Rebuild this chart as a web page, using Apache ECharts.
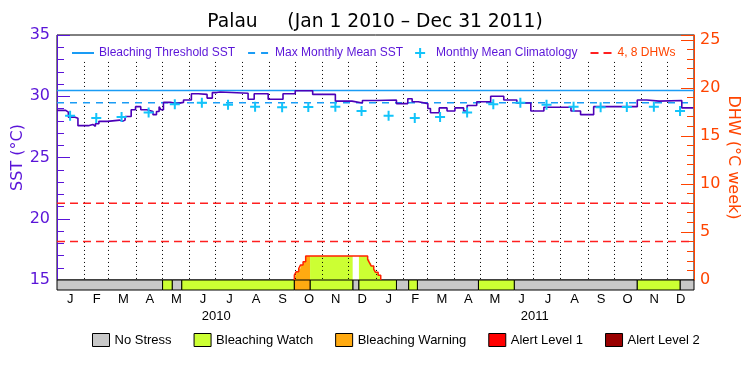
<!DOCTYPE html>
<html>
<head>
<meta charset="utf-8">
<script src="https://cdn.jsdelivr.net/npm/echarts@6/dist/echarts.min.js"></script>
<style>
  html, body { margin: 0; padding: 0; background: #fff; }
  #chart { width: 750px; height: 375px; }
</style>
</head>
<body>
<div id="chart"></div>
<script>
const FONT = 'Liberation Sans'
const AXISFONT = 'DejaVu Sans'
const PURPLE = '#5a14d8'
const ORANGE = '#ff4400'

// SST (step changes: date where value starts)
const sstDates = ['2010-01-01', '2010-01-11', '2010-01-14', '2010-01-21', '2010-01-25', '2010-02-06', '2010-02-11',
  '2010-02-14', '2010-02-18', '2010-02-28', '2010-03-14', '2010-03-17', '2010-03-20', '2010-03-27', '2010-04-01',
  '2010-04-07', '2010-04-14', '2010-04-21', '2010-04-25', '2010-04-28', '2010-04-30', '2010-05-03', '2010-05-11',
  '2010-05-18', '2010-05-26', '2010-06-04', '2010-06-12', '2010-06-22', '2010-06-28', '2010-07-03', '2010-07-07',
  '2010-08-08', '2010-08-15', '2010-08-31', '2010-09-17', '2010-10-01', '2010-10-21', '2010-11-16', '2010-12-05',
  '2010-12-17', '2011-01-01', '2011-01-25', '2011-02-07', '2011-02-12', '2011-02-19', '2011-03-02', '2011-03-05',
  '2011-03-15', '2011-03-24', '2011-04-02', '2011-04-12', '2011-04-16', '2011-04-27', '2011-05-13', '2011-05-28',
  '2011-06-12', '2011-06-28', '2011-07-13', '2011-08-13', '2011-08-24', '2011-09-08', '2011-10-28', '2011-11-08',
  '2011-11-22', '2011-12-18', '2011-12-31']
const sstValues = [28.85, 28.7, 28.3, 28.2, 27.6, 27.7, 27.55,
  27.75, 27.95, 28.05, 27.95, 28.05, 28.35, 28.9, 29.15,
  28.9, 28.75, 28.5, 28.75, 29.15, 28.9, 29.5, 29.4,
  29.5, 29.7, 30.2, 30.15, 29.85, 30.3, 30.35, 30.25,
  29.75, 30.2, 29.75, 30.2, 30.45, 30.15, 29.6, 29.45,
  29.65, 29.7, 29.4, 29.8, 29.55, 29.4, 29.0, 28.65,
  29.05, 28.8, 29.05, 28.8, 29.25, 29.55, 30.0, 29.7,
  29.45, 28.8, 29.1, 28.8, 28.5, 29.15, 29.7, 29.6,
  29.65, 29.05, 29.05]

// monthly mean climatology
const climDates = ['2010-01-16', '2010-02-15', '2010-03-16', '2010-04-16', '2010-05-16', '2010-06-16',
  '2010-07-16', '2010-08-16', '2010-09-16', '2010-10-16', '2010-11-16', '2010-12-16',
  '2011-01-16', '2011-02-15', '2011-03-16', '2011-04-16', '2011-05-16', '2011-06-16',
  '2011-07-16', '2011-08-16', '2011-09-16', '2011-10-16', '2011-11-16', '2011-12-16']
const climValues = [28.4, 28.22, 28.3, 28.68, 29.35, 29.47, 29.3, 29.15, 29.1, 29.12, 29.15, 28.8,
  28.4, 28.22, 28.3, 28.68, 29.35, 29.47, 29.3, 29.15, 29.1, 29.12, 29.15, 28.8]

const mmm = 29.47
const threshold = 30.47
const dhwLevels = [4, 8]

// degree heating weeks (step changes)
const dhwDates = ['2010-09-30', '2010-10-02', '2010-10-05', '2010-10-07', '2010-10-10', '2010-10-13',
  '2010-12-23', '2010-12-25', '2010-12-27', '2010-12-30', '2011-01-01', '2011-01-04', '2011-01-07']
const dhwValues = [0.5, 0.85, 1.2, 1.55, 1.9, 2.5, 2.15, 1.8, 1.46, 1.1, 0.8, 0.5, 0]

// stress level band
const stressStart = ['2010-01-01', '2010-05-02', '2010-05-13', '2010-05-24', '2010-09-30', '2010-10-18',
  '2010-12-06', '2010-12-13', '2011-01-25', '2011-02-08', '2011-02-18', '2011-04-29', '2011-06-09',
  '2011-10-28', '2011-12-16']
const stressEnd = ['2010-05-02', '2010-05-13', '2010-05-24', '2010-09-30', '2010-10-18', '2010-12-06',
  '2010-12-13', '2011-01-25', '2011-02-08', '2011-02-18', '2011-04-29', '2011-06-09', '2011-10-28',
  '2011-12-16', '2012-01-01']
const stressLevel = [0, 1, 0, 1, 2, 1, 0, 1, 0, 1, 0, 1, 0, 1, 0]
const stressNames = ['No Stress', 'Bleaching Watch', 'Bleaching Warning', 'Alert Level 1', 'Alert Level 2']
const stressColors = ['#c8c8c8', '#ccff33', '#ffaa11', '#ff0000', '#990000']

const monthStarts = ['2010-02-01', '2010-03-01', '2010-04-01', '2010-05-01', '2010-06-01', '2010-07-01',
  '2010-08-01', '2010-09-01', '2010-10-01', '2010-11-01', '2010-12-01', '2011-01-01', '2011-02-01',
  '2011-03-01', '2011-04-01', '2011-05-01', '2011-06-01', '2011-07-01', '2011-08-01', '2011-09-01',
  '2011-10-01', '2011-11-01', '2011-12-01']
const monthLabels = ['J', 'F', 'M', 'A', 'M', 'J', 'J', 'A', 'S', 'O', 'N', 'D',
  'J', 'F', 'M', 'A', 'M', 'J', 'J', 'A', 'S', 'O', 'N', 'D']
const yearLabels = ['2010', '2011']

const T0 = '2010-01-01'
const T1 = '2012-01-01'

const ts = s => echarts.time.parse(s).getTime()
const dhwT = dhwDates.map(ts)
function dhwAt(t) {
  let v = 0
  for (let i = 0; i < dhwT.length; i++) if (dhwT[i] <= t) v = dhwValues[i]
  return v
}

const chart = echarts.init(document.getElementById('chart'))

const bandSeries = stressNames.map((name, lvl) => ({
  name,
  type: 'custom',
  xAxisIndex: 1,
  yAxisIndex: 2,
  itemStyle: { color: stressColors[lvl], borderColor: '#000', borderWidth: 1 },
  encode: { x: [0, 1] },
  data: stressStart.map((s, i) => [s, stressEnd[i], stressLevel[i]]).filter(d => d[2] === lvl),
  renderItem: (params, api) => {
    const a = api.coord([api.value(0), 1])
    const b = api.coord([api.value(1), 0])
    return {
      type: 'rect',
      shape: { x: a[0], y: a[1], width: b[0] - a[0], height: b[1] - a[1] },
      style: { fill: stressColors[lvl], stroke: '#000', lineWidth: 1 },
    }
  },
  silent: true,
}))

const refLine = (name, yIndex, value, color, type) => ({
  name,
  type: 'line',
  xAxisIndex: 0,
  yAxisIndex: yIndex,
  symbol: 'none',
  showSymbol: false,
  silent: true,
  z: 3,
  color,
  lineStyle: { color, width: 1.5, type },
  data: [[T0, value], [T1, value]],
})

// hide the symbol that echarts adds to line legend icons
const noMark = { color: 'rgba(0,0,0,0)', borderWidth: 0, opacity: 0 }

const option = {
  animation: false,
  textStyle: { fontFamily: FONT },
  title: {
    text: 'Palau     (Jan 1 2010 \u2013 Dec 31 2011)',
    left: 'center',
    top: 8,
    textStyle: { fontFamily: AXISFONT, fontSize: 18.7, fontWeight: 'normal', color: '#000' },
  },
  legend: [
    {
      top: 42,
      left: 66,
      itemWidth: 22,
      itemHeight: 10,
      itemGap: 12,
      selectedMode: false,
      textStyle: { color: PURPLE, fontSize: 12, fontFamily: FONT },
      data: [
        { name: 'Bleaching Threshold SST', itemStyle: noMark },
        { name: 'Max Monthly Mean SST', itemStyle: noMark },
        'Monthly Mean Climatology',
        { name: '4, 8 DHWs', itemStyle: noMark, textStyle: { color: ORANGE } },
      ],
    },
    {
      top: 328,
      left: 87,
      itemWidth: 17,
      itemHeight: 13,
      itemGap: 22,
      icon: 'rect',
      selectedMode: false,
      itemStyle: { borderColor: '#000', borderWidth: 1 },
      textStyle: { color: '#000', fontSize: 13, fontFamily: FONT },
      data: stressNames,
    },
  ],
  grid: [
    { left: 57, right: 56, top: 35, height: 245, show: true, borderColor: '#000', borderWidth: 1,
      containLabel: false, outerBoundsMode: 'none' },
    { left: 57, right: 56, top: 280, height: 10, containLabel: false, outerBoundsMode: 'none' },
  ],
  xAxis: [
    { type: 'time', gridIndex: 0, min: T0, max: T1, show: false },
    { type: 'time', gridIndex: 1, min: T0, max: T1, show: false },
    {
      type: 'category', gridIndex: 1, position: 'bottom', data: monthLabels, boundaryGap: true,
      axisLine: { show: false }, axisTick: { show: false },
      axisLabel: { color: '#000', fontSize: 13, margin: 3, interval: 0 },
    },
    {
      type: 'category', gridIndex: 1, position: 'bottom', offset: 17, data: yearLabels, boundaryGap: true,
      axisLine: { show: false }, axisTick: { show: false },
      axisLabel: { color: '#000', fontSize: 13, margin: 3, interval: 0 },
    },
  ],
  yAxis: [
    {
      type: 'value', gridIndex: 0, min: 15, max: 35, interval: 5, position: 'left',
      name: 'SST (\u00b0C)', nameLocation: 'middle', nameGap: 31, nameRotate: 90, nameMoveOverlap: false,
      nameTextStyle: { color: PURPLE, fontSize: 16, fontFamily: AXISFONT },
      axisLine: { show: true, lineStyle: { color: PURPLE, width: 1 } },
      axisTick: { show: true, inside: true, length: 13, lineStyle: { color: PURPLE } },
      minorTick: { show: true, splitNumber: 5, length: 7, lineStyle: { color: PURPLE } },
      axisLabel: { color: PURPLE, fontSize: 16, margin: 7, fontFamily: AXISFONT },
      splitLine: { show: false },
    },
    {
      type: 'value', gridIndex: 0, min: 0, max: 25.5, interval: 5, position: 'right',
      name: 'DHW (\u00b0C week)', nameLocation: 'middle', nameGap: 31, nameRotate: -90, nameMoveOverlap: false,
      nameTextStyle: { color: ORANGE, fontSize: 16, fontFamily: AXISFONT },
      axisLine: { show: true, lineStyle: { color: ORANGE, width: 1 } },
      axisTick: { show: true, inside: true, length: 13, lineStyle: { color: ORANGE } },
      minorTick: { show: true, splitNumber: 5, length: 7, lineStyle: { color: ORANGE } },
      axisLabel: { color: ORANGE, fontSize: 16, margin: 6, showMaxLabel: false, fontFamily: AXISFONT },
      splitLine: { show: false },
    },
    { type: 'value', gridIndex: 1, min: 0, max: 1, show: false },
  ],
  series: [
    {
      name: 'dhwFill',
      type: 'custom',
      xAxisIndex: 0,
      yAxisIndex: 1,
      encode: { x: [0, 1] },
      z: 1,
      silent: true,
      data: stressStart.map((s, i) => [s, stressEnd[i], stressLevel[i]]),
      renderItem: (params, api) => {
        const s = api.value(0), e = api.value(1), lvl = api.value(2)
        let v = dhwAt(s)
        const pts = [[s, 0], [s, v]]
        let any = v > 0
        dhwT.forEach((t, i) => {
          if (t > s && t < e) {
            pts.push([t, v])
            v = dhwValues[i]
            pts.push([t, v])
            if (v > 0) any = true
          }
        })
        if (!any) return null
        pts.push([e, v], [e, 0])
        return {
          type: 'polygon',
          shape: { points: pts.map(p => api.coord(p)) },
          style: { fill: lvl === 0 ? '#ffffff' : stressColors[lvl] },
        }
      },
    },
    {
      name: 'months',
      type: 'custom',
      xAxisIndex: 0,
      yAxisIndex: 0,
      z: 2,
      silent: true,
      data: monthStarts.map(d => [d, 15]),
      renderItem: (params, api) => {
        const a = api.coord([api.value(0), 32.8])
        const b = api.coord([api.value(0), 15])
        return {
          type: 'line',
          shape: { x1: Math.round(a[0]) + 0.5, y1: a[1], x2: Math.round(b[0]) + 0.5, y2: b[1] },
          style: { stroke: '#000', lineWidth: 1, lineDash: [1, 3] },
        }
      },
    },
    {
      name: 'dhwLine',
      type: 'line',
      xAxisIndex: 0,
      yAxisIndex: 1,
      step: 'end',
      symbol: 'none',
      z: 3,
      lineStyle: { color: '#ff2200', width: 1.5 },
      data: [[dhwDates[0], 0]].concat(dhwDates.map((d, i) => [d, dhwValues[i]])),
    },
    refLine('Bleaching Threshold SST', 0, threshold, '#1a9cf5', 'solid'),
    refLine('Max Monthly Mean SST', 0, mmm, '#1a9cf5', [7, 6]),
    ...dhwLevels.map(v => refLine('4, 8 DHWs', 1, v, '#ff2020', [8, 5])),
    {
      name: 'SST',
      type: 'line',
      xAxisIndex: 0,
      yAxisIndex: 0,
      step: 'end',
      symbol: 'none',
      z: 4,
      lineStyle: { color: '#4c00b8', width: 1.6 },
      data: sstDates.map((d, i) => [d, sstValues[i]]),
    },
    {
      name: 'Monthly Mean Climatology',
      type: 'scatter',
      xAxisIndex: 0,
      yAxisIndex: 0,
      z: 5,
      symbol: 'path://M4,0H6V4H10V6H6V10H4V6H0V4H4Z',
      symbolSize: 10,
      itemStyle: { color: '#12c4fa', opacity: 1 },
      data: climDates.map((d, i) => [d, climValues[i]]),
    },
  ].concat(bandSeries),
}

chart.setOption(option)
</script>
</body>
</html>
